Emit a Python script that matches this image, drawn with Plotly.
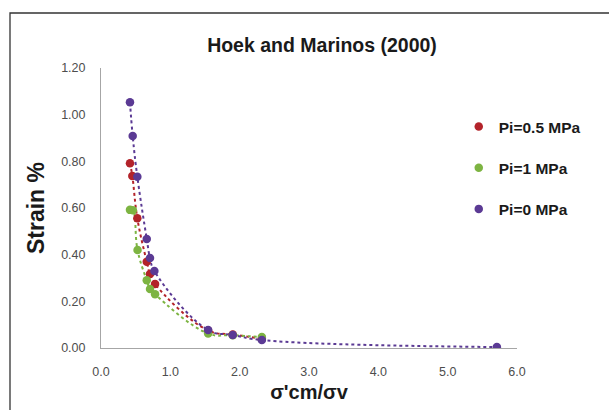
import plotly.graph_objects as go

series_names = ["Pi=0.5 MPa", "Pi=1 MPa", "Pi=0 MPa"]
colors = ["#B3232A", "#7DB442", "#5B3A94"]

x_red = [0.418, 0.452, 0.524, 0.66, 0.707, 0.78, 1.545, 1.90, 2.32]
y_red = [0.792, 0.737, 0.556, 0.37, 0.317, 0.274, 0.075, 0.058, 0.040]

x_green = [0.418, 0.46, 0.527, 0.66, 0.707, 0.78, 1.545, 1.90, 2.32]
y_green = [0.592, 0.590, 0.420, 0.29, 0.253, 0.230, 0.062, 0.055, 0.047]

x_purple = [0.418, 0.457, 0.524, 0.66, 0.707, 0.77, 1.545, 1.90, 2.32, 5.71]
y_purple = [1.053, 0.909, 0.734, 0.467, 0.386, 0.33, 0.077, 0.056, 0.034, 0.004]

xs = [x_red, x_green, x_purple]
ys = [y_red, y_green, y_purple]

fig = go.Figure()
for x, y, c in zip(xs, ys, colors):
    fig.add_trace(go.Scatter(x=x, y=y, mode="lines", showlegend=False, hoverinfo="skip",
                             line=dict(color=c, width=2, dash="dot", shape="spline", smoothing=1.2)))
for x, y, c, n in zip(xs, ys, colors, series_names):
    fig.add_trace(go.Scatter(x=x, y=y, mode="markers", name="<b>" + n + "</b>", legendgroup=n,
                             marker=dict(color=c, size=8.5)))

fig.update_layout(
    width=609, height=410,
    margin=dict(l=101, r=92, t=68, b=62),
    paper_bgcolor="white", plot_bgcolor="white",
    font=dict(family="Liberation Sans, Arial, sans-serif", color="#595959"),
    title=dict(text="<b>Hoek and Marinos (2000)</b>", x=322 / 609, xanchor="center",
               y=1 - 45 / 410, yanchor="middle",
               font=dict(size=19.5, color="#1a1a1a")),
    xaxis=dict(range=[0, 6], tickvals=[0, 1, 2, 3, 4, 5, 6], tickformat=".1f",
               showgrid=False, zeroline=False, showline=True, linecolor="#A6A6A6", linewidth=1,
               ticks="", ticklabelstandoff=12, tickfont=dict(size=12.5, color="#4d4d4d"),
               title=dict(text="<b>σ'cm/σv</b>", font=dict(size=20, color="#1a1a1a"), standoff=6)),
    yaxis=dict(range=[0, 1.2], tickvals=[0, 0.2, 0.4, 0.6, 0.8, 1.0, 1.2], tickformat=".2f",
               showgrid=False, zeroline=False, showline=True, linecolor="#A6A6A6", linewidth=1,
               ticks="", ticklabelstandoff=12, tickfont=dict(size=12.5, color="#4d4d4d"),
               title=dict(text="<b>Strain %</b>", font=dict(size=23, color="#1a1a1a"), standoff=10)),
    legend=dict(x=0.86, y=0.85, xanchor="left", yanchor="top", traceorder="grouped",
                tracegroupgap=18, bgcolor="rgba(0,0,0,0)",
                font=dict(size=15.5, color="#1a1a1a", family="Liberation Sans, Arial, sans-serif"),
                itemwidth=30),
    shapes=[dict(type="rect", xref="paper", yref="paper",
                 x0=(10 - 101) / 416, x1=(614 - 101) / 416,
                 y0=(348 - 416) / 280, y1=(348 - 13) / 280,
                 line=dict(color="#333333", width=1.3), fillcolor="rgba(0,0,0,0)", layer="below")],
)

fig.write_html("out.html")
